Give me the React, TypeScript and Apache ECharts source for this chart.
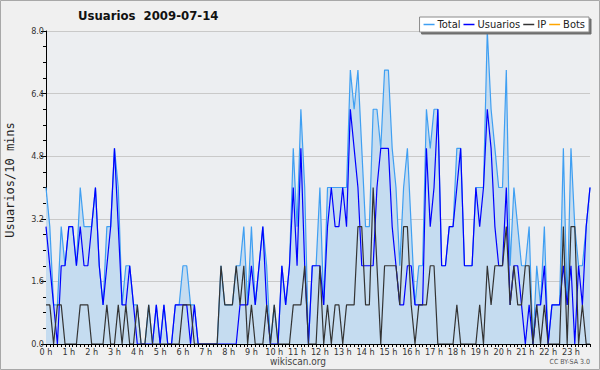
import React, { useEffect, useRef } from "react";
import * as echarts from "echarts";

const hourLabels = [
  "0 h", "1 h", "2 h", "3 h", "4 h", "5 h", "6 h", "7 h", "8 h", "9 h", "10 h", "11 h",
  "12 h", "13 h", "14 h", "15 h", "16 h", "17 h", "18 h", "19 h", "20 h", "21 h", "22 h", "23 h",
];
const minuteSlots = ["00", "10", "20", "30", "40", "50"];
const yTicks = [0, 1.6, 3.2, 4.8, 6.4, 8.0];

const total = [
  4, 3, 1, 1, 3, 2, 3, 3, 2, 4, 3, 3, 3, 4, 2, 1, 3, 3, 5, 4, 1, 2, 2, 1,
  1, 0, 0, 1, 0, 1, 0, 1, 0, 0, 1, 1, 2, 2, 1, 1, 0, 0, 0, 0, 0, 0, 2, 1,
  1, 1, 2, 2, 3, 1, 3, 1, 2, 3, 2, 0, 1, 0, 2, 1, 2, 5, 3, 6, 4, 0, 2, 2,
  4, 1, 4, 4, 4, 4, 4, 4, 7, 6, 7, 5, 3, 3, 6, 6, 5, 7, 7, 5, 4, 2, 4, 5,
  3, 1, 2, 2, 6, 5, 6, 6, 2, 2, 3, 3, 5, 5, 2, 2, 2, 4, 4, 4, 8, 6, 5, 4,
  4, 7, 2, 4, 3, 2, 2, 3, 0, 2, 1, 3, 0, 1, 1, 1, 5, 1, 5, 3, 2, 2, 3, 4,
];
const usuarios = [
  3, 2, 1, 0, 2, 2, 3, 3, 2, 3, 2, 2, 3, 4, 2, 1, 2, 3, 5, 3, 1, 1, 2, 1,
  0, 0, 0, 0, 0, 1, 0, 1, 0, 0, 1, 1, 1, 1, 0, 1, 0, 0, 0, 0, 0, 0, 0, 0,
  0, 0, 0, 1, 1, 1, 2, 1, 2, 3, 1, 0, 0, 0, 2, 1, 2, 4, 2, 5, 2, 0, 2, 2,
  2, 1, 3, 4, 3, 3, 4, 3, 6, 5, 4, 2, 2, 2, 2, 4, 5, 5, 5, 3, 2, 1, 1, 2,
  2, 1, 1, 1, 5, 3, 4, 6, 2, 2, 3, 3, 4, 5, 2, 2, 2, 4, 3, 4, 6, 5, 3, 2,
  2, 4, 1, 2, 2, 1, 0, 1, 0, 1, 1, 2, 0, 1, 1, 1, 2, 1, 2, 0, 2, 1, 3, 4,
];
const ip = [
  1, 1, 0, 1, 1, 0, 0, 0, 0, 1, 1, 1, 0, 0, 0, 0, 1, 0, 0, 1, 0, 1, 0, 0,
  1, 0, 0, 1, 0, 0, 0, 0, 0, 0, 0, 0, 1, 1, 1, 0, 0, 0, 0, 0, 0, 0, 2, 1,
  1, 1, 2, 1, 2, 0, 1, 0, 0, 0, 1, 0, 1, 0, 0, 0, 0, 1, 1, 1, 2, 0, 0, 0,
  2, 0, 1, 0, 1, 1, 0, 1, 1, 1, 3, 3, 1, 1, 4, 2, 0, 2, 2, 2, 2, 1, 3, 3,
  1, 0, 1, 1, 1, 2, 2, 0, 0, 0, 0, 0, 1, 0, 0, 0, 0, 0, 1, 0, 2, 1, 2, 2,
  2, 3, 1, 2, 1, 1, 2, 2, 0, 1, 0, 1, 0, 0, 0, 0, 3, 0, 3, 3, 0, 1, 0, 0,
];
const bots = [
  0, 0, 0, 0, 0, 0, 0, 0, 0, 0, 0, 0, 0, 0, 0, 0, 0, 0, 0, 0, 0, 0, 0, 0,
  0, 0, 0, 0, 0, 0, 0, 0, 0, 0, 0, 0, 0, 0, 0, 0, 0, 0, 0, 0, 0, 0, 0, 0,
  0, 0, 0, 0, 0, 0, 0, 0, 0, 0, 0, 0, 0, 0, 0, 0, 0, 0, 0, 0, 0, 0, 0, 0,
  0, 0, 0, 0, 0, 0, 0, 0, 0, 0, 0, 0, 0, 0, 0, 0, 0, 0, 0, 0, 0, 0, 0, 0,
  0, 0, 0, 0, 0, 0, 0, 0, 0, 0, 0, 0, 0, 0, 0, 0, 0, 0, 0, 0, 0, 0, 0, 0,
  0, 0, 0, 0, 0, 0, 0, 0, 0, 0, 0, 0, 0, 0, 0, 0, 0, 0, 0, 0, 0, 0, 0, 0,
];

const FONT = "'DejaVu Sans Condensed', 'DejaVu Sans', sans-serif";

export default function App() {
  const ref = useRef<HTMLDivElement>(null);
  useEffect(() => {
    const chart = echarts.init(ref.current!, null, { renderer: "svg" });
    const slotLabels: string[] = [];
    hourLabels.forEach((h) => minuteSlots.forEach((m) => slotLabels.push(h + m)));
    const lineSeries = (name: string, data: number[], color: string, extra: any = {}) => ({
      name,
      type: "line",
      data,
      symbol: "none",
      showSymbol: false,
      silent: true,
      lineStyle: { color, width: 1.2 },
      itemStyle: { color },
      ...extra,
    });
    chart.setOption({
      animation: false,
      backgroundColor: "#f0f0f0",
      title: {
        text: "Usuarios  2009-07-14",
        left: 78,
        top: 9,
        padding: 0,
        textStyle: { fontSize: 13, fontWeight: "bold", fontFamily: FONT, color: "#111" },
      },
      legend: {
        right: 11,
        top: 17,
        data: ["Total", "Usuarios", "IP", "Bots"],
        icon: "rect",
        itemWidth: 11,
        itemHeight: 1.5,
        itemGap: 3,
        padding: [2, 4, 2, 4],
        backgroundColor: "#ffffff",
        borderColor: "#8a8a8a",
        borderWidth: 1,
        shadowColor: "#6e6e6e",
        shadowOffsetX: 2,
        shadowOffsetY: 2,
        shadowBlur: 0,
        textStyle: {
          fontSize: 11,
          fontFamily: FONT,
          color: "#222",
          padding: [0, 0, 0, -2],
          lineHeight: 11,
        },
      },
      grid: {
        left: 46,
        right: 10,
        top: 31,
        bottom: 26,
        show: true,
        backgroundColor: "#eceef1",
        borderWidth: 0,
      },
      xAxis: {
        type: "category",
        data: slotLabels,
        boundaryGap: false,
        z: 10,
        axisLine: { show: true, lineStyle: { color: "#000", width: 1 } },
        axisTick: { show: true, interval: 0, length: 3, lineStyle: { color: "#000" } },
        axisLabel: {
          interval: 5,
          margin: 3,
          fontSize: 9,
          fontFamily: FONT,
          color: "#333",
          formatter: (_v: string, idx: number) => hourLabels[Math.floor(idx / 6)],
        },
        splitLine: { show: false },
      },
      yAxis: {
        type: "value",
        min: yTicks[0],
        max: yTicks[yTicks.length - 1],
        interval: 1.6,
        axisLine: { show: true, lineStyle: { color: "#000", width: 1 } },
        axisTick: { show: true, length: 5, lineStyle: { color: "#000" } },
        minorTick: { show: true, splitNumber: 4, length: 3, lineStyle: { color: "#000" } },
        axisLabel: {
          fontSize: 9,
          fontFamily: FONT,
          color: "#333",
          margin: 2,
          formatter: (v: number) => v.toFixed(1),
        },
        splitLine: { show: true, lineStyle: { color: "#c9c9c9", width: 1 } },
      },
      series: [
        lineSeries("Total", total, "#3f9ff2", { areaStyle: { color: "#c5dcf0", opacity: 1 }, z: 2 }),
        lineSeries("Usuarios", usuarios, "#0000ff", { z: 3 }),
        lineSeries("IP", ip, "#333333", { z: 4 }),
        lineSeries("Bots", bots, "#ffa500", { z: 1 }),
      ],
      graphic: [
        {
          type: "rect",
          silent: true,
          shape: { x: 0.5, y: 0.5, width: 599, height: 369 },
          style: { fill: "none", stroke: "#a8a8a8", lineWidth: 1 },
        },
        {
          type: "text",
          silent: true,
          x: 10,
          y: 180,
          rotation: Math.PI / 2,
          style: {
            text: "Usuarios/10 mins",
            fontSize: 12,
            fontFamily: "'DejaVu Sans Mono', monospace",
            fill: "#222",
            align: "center",
            verticalAlign: "middle",
          },
        },
        {
          type: "text",
          silent: true,
          x: 298,
          y: 361,
          style: {
            text: "wikiscan.org",
            fontSize: 10,
            fontFamily: FONT,
            fill: "#444",
            align: "center",
            verticalAlign: "middle",
          },
        },
        {
          type: "text",
          silent: true,
          x: 590,
          y: 362,
          style: {
            text: "CC BY-SA 3.0",
            fontSize: 7,
            fontFamily: FONT,
            fill: "#555",
            align: "right",
            verticalAlign: "middle",
          },
        },
      ],
    });
    return () => chart.dispose();
  }, []);
  return (
    <div
      ref={ref}
      style={{ position: "fixed", left: 0, top: 0, width: 600, height: 370 }}
    />
  );
}
